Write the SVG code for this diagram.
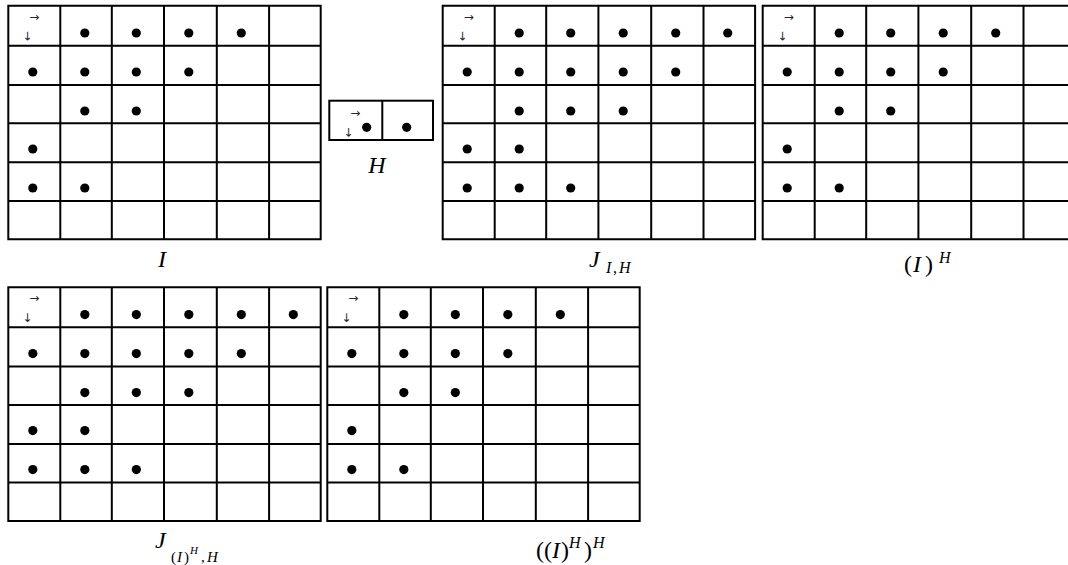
<svg xmlns="http://www.w3.org/2000/svg" xmlns:xlink="http://www.w3.org/1999/xlink" width="1068" height="565" viewBox="0 0 1068 565">
<style>
.ln{fill:none;stroke:#000;stroke-width:2}
.dot{fill:#000}
.ar{font-family:"DejaVu Sans",sans-serif;font-size:12px;fill:#000;text-anchor:middle;opacity:0.85}
.lb{font-family:"Liberation Serif","Times New Roman",serif;font-style:italic;fill:#000}
.rm{font-style:normal}
</style>
<defs>
<path id="grid" class="ln" d="M0 0H312.4V233.6H0Z M52 0V233.6 M103.5 0V233.6 M155.7 0V233.6 M208.5 0V233.6 M260.8 0V233.6 M0 40H312.4 M0 79.3H312.4 M0 117.6H312.4 M0 156.6H312.4 M0 195.3H312.4"/>
<g id="arr"><text class="ar" x="26" y="15">→</text><text class="ar" transform="translate(20,30) rotate(90)" dy="4">→</text></g>
<g id="dotsA" class="dot">
<circle cx="76.5" cy="27.3" r="4.6"/><circle cx="128" cy="27.3" r="4.6"/><circle cx="180.5" cy="27.3" r="4.6"/><circle cx="233" cy="27.3" r="4.6"/>
<circle cx="24.5" cy="66.3" r="4.6"/><circle cx="76.5" cy="66.3" r="4.6"/><circle cx="128" cy="66.3" r="4.6"/><circle cx="180.5" cy="66.3" r="4.6"/>
<circle cx="76.5" cy="105.3" r="4.6"/><circle cx="128" cy="105.3" r="4.6"/>
<circle cx="24.5" cy="143.3" r="4.6"/>
<circle cx="24.5" cy="182.3" r="4.6"/><circle cx="76.5" cy="182.3" r="4.6"/>
</g>
<g id="dotsB" class="dot">
<circle cx="76.5" cy="27.3" r="4.6"/><circle cx="128" cy="27.3" r="4.6"/><circle cx="180.5" cy="27.3" r="4.6"/><circle cx="233" cy="27.3" r="4.6"/><circle cx="285" cy="27.3" r="4.6"/>
<circle cx="24.5" cy="66.3" r="4.6"/><circle cx="76.5" cy="66.3" r="4.6"/><circle cx="128" cy="66.3" r="4.6"/><circle cx="180.5" cy="66.3" r="4.6"/><circle cx="233" cy="66.3" r="4.6"/>
<circle cx="76.5" cy="105.3" r="4.6"/><circle cx="128" cy="105.3" r="4.6"/><circle cx="180.5" cy="105.3" r="4.6"/>
<circle cx="24.5" cy="143.3" r="4.6"/><circle cx="76.5" cy="143.3" r="4.6"/>
<circle cx="24.5" cy="182.3" r="4.6"/><circle cx="76.5" cy="182.3" r="4.6"/><circle cx="128" cy="182.3" r="4.6"/>
</g>
</defs>
<rect width="1068" height="565" fill="#fff"/>

<g id="gridI" transform="translate(8.3,5.7)">
<use xlink:href="#grid"/><use xlink:href="#arr"/><use xlink:href="#dotsA"/>
</g>
<text id="labelI" class="lb" x="162" y="267" font-size="24" text-anchor="middle">I</text>

<g id="boxH">
<rect class="ln" x="329.3" y="100.7" width="103.7" height="39.3"/>
<path class="ln" d="M382.3 100.7V140"/>
<use xlink:href="#arr" transform="translate(329.3,102)"/>
<circle class="dot" cx="366.7" cy="127.3" r="4.6"/><circle class="dot" cx="406.7" cy="127.3" r="4.6"/>
<text class="lb" x="377" y="173" font-size="24" text-anchor="middle">H</text>
</g>

<g id="gridJ1" transform="translate(442.7,5.7)">
<use xlink:href="#grid"/><use xlink:href="#arr"/><use xlink:href="#dotsB"/>
</g>
<text id="labelJ1" class="lb" font-size="24"><tspan x="589" y="267">J</tspan><tspan x="606" y="273" font-size="16">I</tspan><tspan x="613" y="273" font-size="16" class="rm">,</tspan><tspan x="619" y="273" font-size="16">H</tspan></text>

<g id="gridIH" transform="translate(762.7,5.7)">
<use xlink:href="#grid"/><use xlink:href="#arr"/><use xlink:href="#dotsA"/>
</g>
<text id="labelIH" class="lb" font-size="24"><tspan x="904" y="272" class="rm">(</tspan><tspan x="913" y="272">I</tspan><tspan x="925" y="272" class="rm">)</tspan><tspan x="939" y="263" font-size="16">H</tspan></text>

<g id="gridJ2" transform="translate(8.3,287.3)">
<use xlink:href="#grid"/><use xlink:href="#arr"/><use xlink:href="#dotsB"/>
</g>
<text id="labelJ2" class="lb" font-size="24"><tspan x="155" y="548">J</tspan><tspan x="171" y="562" font-size="15" class="rm">(</tspan><tspan x="177" y="562" font-size="15">I</tspan><tspan x="184" y="562" font-size="15" class="rm">)</tspan><tspan x="190" y="554" font-size="11">H</tspan><tspan x="201" y="562" font-size="15" class="rm">,</tspan><tspan x="207" y="562" font-size="15">H</tspan></text>

<g id="gridIHH" transform="translate(327.3,287.3)">
<use xlink:href="#grid"/><use xlink:href="#arr"/><use xlink:href="#dotsA"/>
</g>
<text id="labelIHH" class="lb" font-size="24"><tspan x="536" y="558" class="rm">((</tspan><tspan x="552" y="558">I</tspan><tspan x="561" y="558" class="rm">)</tspan><tspan x="569" y="548" font-size="16">H</tspan><tspan x="584" y="558" class="rm">)</tspan><tspan x="593" y="548" font-size="16">H</tspan></text>
</svg>
